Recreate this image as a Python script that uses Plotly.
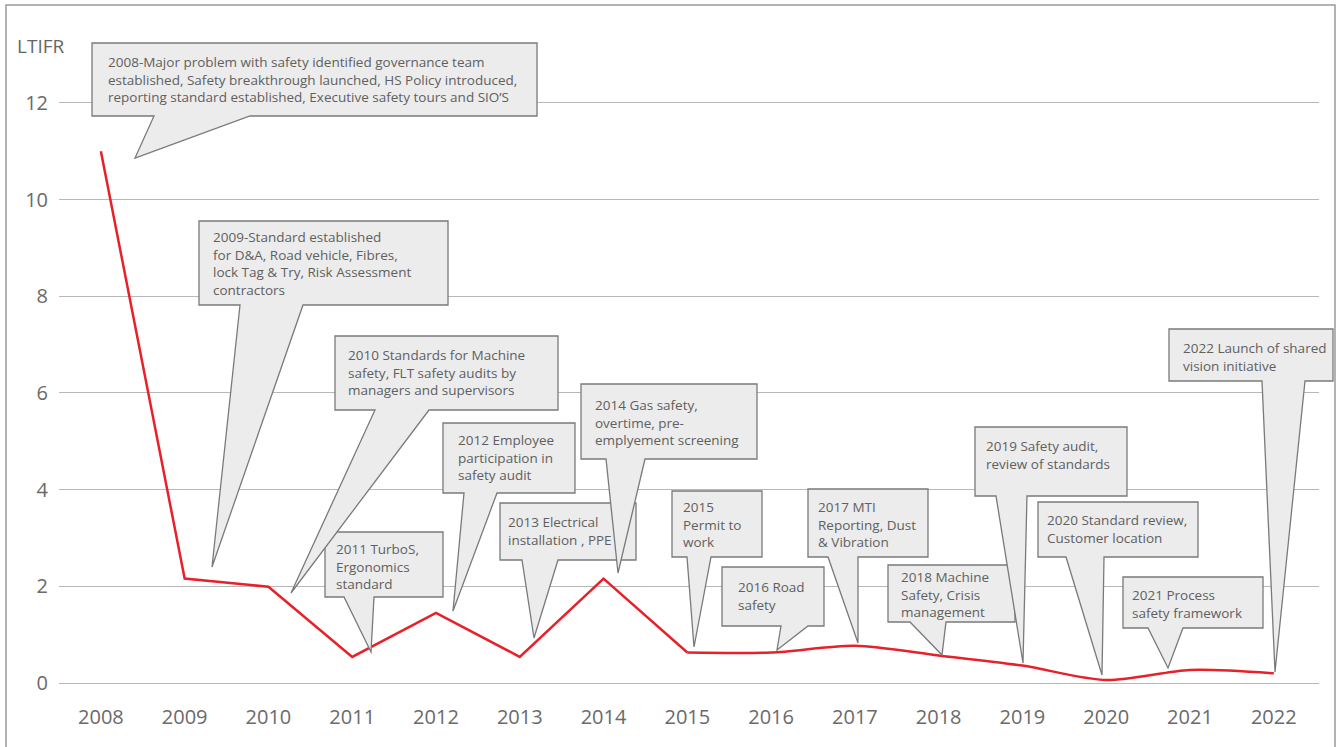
import plotly.graph_objects as go

# LTIFR by year
years = [2008, 2009, 2010, 2011, 2012, 2013, 2014, 2015,
         2016, 2017, 2018, 2019, 2020, 2021, 2022]
ltifr = [11.0, 2.16, 1.99, 0.54, 1.45, 0.54, 2.16, 0.63,
         0.63, 0.77, 0.57, 0.36, 0.06, 0.27, 0.20]
y_ticks = [0, 2, 4, 6, 8, 10, 12]

milestones = [
    "2008-Major problem with safety identified governance team<br>"
    "established, Safety breakthrough launched, HS Policy introduced,<br>"
    "reporting standard established, Executive safety tours and SIO’S",
    "2009-Standard established<br>for D&amp;A, Road vehicle, Fibres,<br>"
    "lock Tag &amp; Try, Risk Assessment<br>contractors",
    "2010 Standards for Machine<br>safety, FLT safety audits by<br>managers and supervisors",
    "2011 TurboS,<br>Ergonomics<br>standard",
    "2012 Employee<br>participation in<br>safety audit",
    "2013 Electrical<br>installation , PPE",
    "2014 Gas safety,<br>overtime, pre-<br>emplyement screening",
    "2015<br>Permit to<br>work",
    "2016 Road<br>safety",
    "2017 MTI<br>Reporting, Dust<br>&amp; Vibration",
    "2018 Machine<br>Safety, Crisis<br>management",
    "2019 Safety audit,<br>review of standards",
    "2020 Standard review,<br>Customer location",
    "2021 Process<br>safety framework",
    "2022 Launch of shared<br>vision initiative",
]

# callout geometry in page pixels: box (x0, y0, x1, y1), tail base (left, right),
# tail tip (x, y), text left, text middle
callout_geom = [
    ((92, 43, 537, 116), (154, 250), (135, 158), 106, 80),
    ((199, 221, 448, 305), (240, 303), (212, 567), 211, 263),
    ((335, 336, 558, 410), (375, 429), (291, 593), 346, 372),
    ((325, 532, 443, 597), (344, 374), (371, 652), 334, 566),
    ((443, 423, 575, 493), (464, 497), (453, 611), 456, 457),
    ((500, 503, 636, 560), (522, 558), (534, 638), 506, 531),
    ((581, 384, 757, 459), (606, 645), (618, 573), 593, 422),
    ((672, 491, 762, 557), (687, 711), (694, 647), 681, 524),
    ((722, 567, 824, 626), (781, 808), (777, 650), 736, 596),
    ((808, 489, 928, 557), (828, 858), (858, 643), 816, 524),
    ((888, 565, 1015, 622), (910, 946), (942, 655), 899, 594),
    ((975, 427, 1127, 496), (996, 1027), (1023, 663), 984, 455),
    ((1038, 502, 1198, 557), (1066, 1104), (1102, 675), 1045, 529),
    ((1123, 577, 1263, 628), (1148, 1183), (1168, 668), 1130, 604),
    ((1169, 329, 1333, 381), (1262, 1305), (1275, 672), 1181, 357),
]
# tails that run over a neighbour's box are drawn after it
draw_order = [0, 1, 3, 2, 4, 5, 6, 7, 8, 9, 10, 11, 12, 13, 14]

W, H = 1338, 747
ML, MR, MT, MB = 59, 19, 40, 64
PW, PH = W - ML - MR, H - MT - MB


def px(x, y):
    return (x - ML) / PW, (H - MB - y) / PH


fig = go.Figure()

# sharp segments first, then the smoother tail end of the series
fig.add_trace(go.Scatter(x=years[:8], y=ltifr[:8], mode="lines",
                         line=dict(color="#e8202a", width=2.5),
                         showlegend=False, hoverinfo="x+y"))
fig.add_trace(go.Scatter(x=years[7:], y=ltifr[7:], mode="lines",
                         line=dict(color="#e8202a", width=2.5, shape="spline",
                                   smoothing=0.8),
                         showlegend=False, hoverinfo="x+y"))

shapes = []
annotations = []
for i in draw_order:
    (x0, y0, x1, y1), (bl, br), (tx, ty), txt_x, txt_y = callout_geom[i]
    pts = [(x0, y0), (x1, y0), (x1, y1), (br, y1), (tx, ty), (bl, y1), (x0, y1)]
    path = "M " + " L ".join("{:.5f},{:.5f}".format(*px(a, b)) for a, b in pts) + " Z"
    shapes.append(dict(type="path", path=path, xref="paper", yref="paper",
                       fillcolor="#ececec", line=dict(color="#7a7a7a", width=1.3),
                       layer="above"))
    ax, ay = px(txt_x, txt_y)
    annotations.append(dict(text=milestones[i], x=ax, y=ay, xref="paper", yref="paper",
                            xanchor="left", yanchor="middle", align="left",
                            showarrow=False, font=dict(size=13.5, color="#606060")))

# outer frame
fx0, fy0 = px(6, 5)
fx1, fy1 = px(1335, 770)
shapes.append(dict(type="rect", xref="paper", yref="paper", x0=fx0, y0=fy1, x1=fx1, y1=fy0,
                   line=dict(color="#9a9a9a", width=1.5), layer="below"))

lx, ly = px(15, 46)
annotations.append(dict(text="LTIFR", x=lx, y=ly, xref="paper", yref="paper",
                        xanchor="left", yanchor="middle", showarrow=False,
                        font=dict(size=19, color="#666666")))

fig.update_layout(
    width=W, height=H,
    margin=dict(l=ML, r=MR, t=MT, b=MB),
    paper_bgcolor="white", plot_bgcolor="white",
    font=dict(family="Open Sans", color="#666666"),
    shapes=shapes, annotations=annotations,
    xaxis=dict(range=[2007.5, 2022.54], tickvals=years, showgrid=False,
               zeroline=False, showline=False, ticks="",
               tickfont=dict(size=20, color="#6a6a6a"), ticklabelstandoff=20),
    yaxis=dict(range=[0, 13.3], tickvals=y_ticks, showgrid=True,
               gridcolor="#b8b8b8", gridwidth=1.2, zeroline=True,
               zerolinecolor="#b8b8b8", zerolinewidth=1.2, showline=False,
               ticks="", tickfont=dict(size=20, color="#6a6a6a"),
               ticklabelstandoff=10),
)

# drop the default 8px page margin so the figure fills the window exactly
fig.write_html("out.html", config={"displayModeBar": False},
               post_script="document.body.style.margin = '0px';")
